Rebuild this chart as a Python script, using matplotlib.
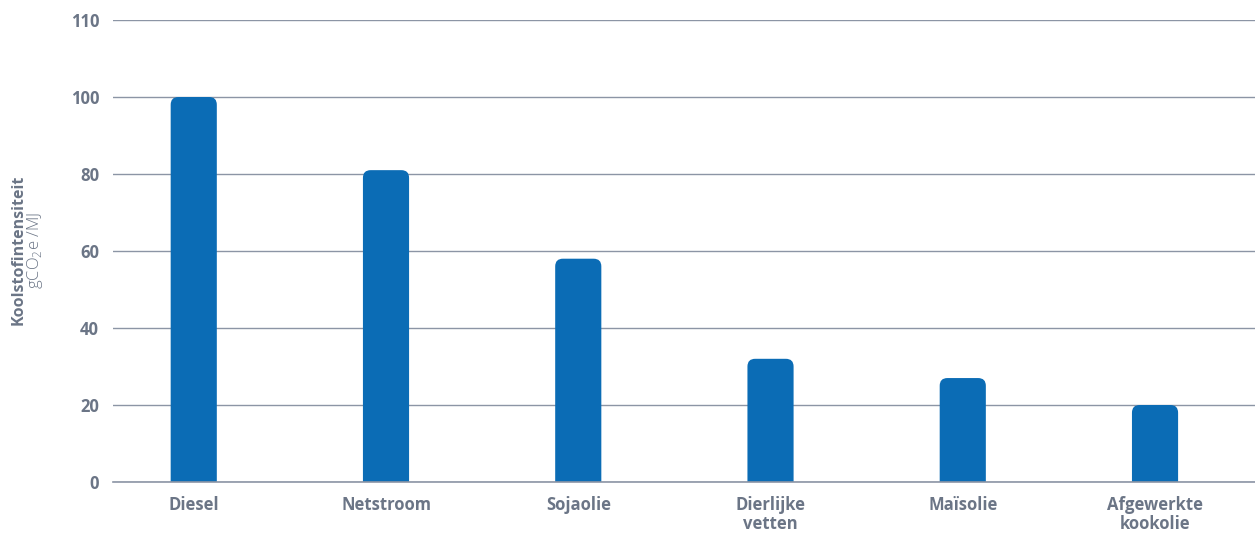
import matplotlib
matplotlib.use("Agg")
import matplotlib.pyplot as plt
from matplotlib.patches import FancyBboxPatch

# data
categories = ["Diesel", "Netstroom", "Sojaolie", "Dierlijke\nvetten", "Maïsolie", "Afgewerkte\nkookolie"]
values = [100, 81, 58, 32, 27, 20]
# the top gridline in the source sits one full step above 100 but is labelled 110
ytick_pos = [0, 20, 40, 60, 80, 100, 120]
ytick_labels = ["0", "20", "40", "60", "80", "100", "110"]

bar_color = "#0b6cb5"
text_color = "#6b7586"
grid_color = "#8c95a5"

plt.rcParams["font.family"] = ["Open Sans", "DejaVu Sans"]

fig = plt.figure(figsize=(12.55, 5.35), dpi=100)
ax = fig.add_axes([113 / 1255, 1 - 482 / 535, 1 - 113 / 1255, (482 - 20) / 535])

x = list(range(len(categories)))
bars = ax.bar(x, values, width=0.24, color=bar_color)

# rounded top corners: swap each bar for a rounded box that extends below 0 (clipped away)
for b in bars:
    bx, by = b.get_x(), b.get_y()
    w, h = b.get_width(), b.get_height()
    b.remove()
    box = FancyBboxPatch((bx, by - 5), w, h + 5,
                         boxstyle="round,pad=0,rounding_size=0.04",
                         mutation_aspect=50,
                         facecolor=bar_color, edgecolor="none", clip_on=True)
    ax.add_patch(box)

ax.set_xlim(-0.42, 5.52)
ax.set_ylim(0, 120)
ax.set_yticks(ytick_pos)
ax.set_yticklabels(ytick_labels)
ax.set_xticks(x)
ax.set_xticklabels(categories, fontsize=12, fontweight="bold", color=text_color,
                   linespacing=1.1, va="top")
ax.tick_params(axis="x", length=0, pad=10)
ax.tick_params(axis="y", length=0, pad=10, labelsize=12, labelcolor=text_color)
for lbl in ax.get_yticklabels():
    lbl.set_fontweight("bold")

ax.yaxis.grid(True, color=grid_color, linewidth=1)
ax.set_axisbelow(True)
for s in ["top", "right", "left"]:
    ax.spines[s].set_visible(False)
ax.spines["bottom"].set_color(grid_color)
ax.spines["bottom"].set_linewidth(1.2)

fig.text(19 / 1255, 1 - 250 / 535, "Koolstofintensiteit", rotation=90, ha="center", va="center",
         fontsize=11.5, fontweight="bold", color=text_color)
fig.text(35 / 1255, 1 - 251 / 535, r"gCO$_{\mathregular{2}}$e /MJ", rotation=90, ha="center", va="center",
         fontsize=12, fontweight="light", color=text_color)

fig.savefig("out.png", dpi=100)
